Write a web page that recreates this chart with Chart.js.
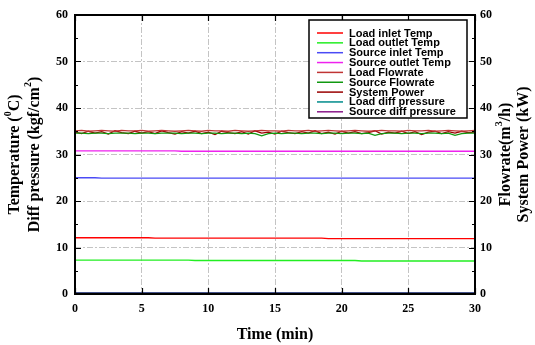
<!DOCTYPE html>
<html>
<head>
<meta charset="utf-8">
<script src="https://cdn.jsdelivr.net/npm/chart.js@4.4.0/dist/chart.umd.min.js"></script>
<style>
  html, body { margin: 0; padding: 0; background: #fff; }
</style>
</head>
<body>
<canvas id="chart" width="535" height="345"></canvas>
<script>
// time axis (min)
const timeMin = [
  0, 0.5, 1, 1.5, 2, 2.5, 3, 3.5, 4, 4.5,
  5, 5.5, 6, 6.5, 7, 7.5, 8, 8.5, 9, 9.5,
  10, 10.5, 11, 11.5, 12, 12.5, 13, 13.5, 14, 14.5,
  15, 15.5, 16, 16.5, 17, 17.5, 18, 18.5, 19, 19.5,
  20, 20.5, 21, 21.5, 22, 22.5, 23, 23.5, 24, 24.5,
  25, 25.5, 26, 26.5, 27, 27.5, 28, 28.5, 29, 29.5,
  30
];

const loadInletTemp = [
  12.1, 12.1, 12.1, 12.1, 12.1, 12.1, 12.1, 12.1, 12.1, 12.1,
  12.1, 12.1, 12.0, 12.0, 12.0, 12.0, 12.0, 12.0, 12.0, 12.0,
  12.0, 12.0, 12.0, 12.0, 12.0, 12.0, 12.0, 12.0, 12.0, 12.0,
  12.0, 12.0, 12.0, 12.0, 12.0, 12.0, 12.0, 12.0, 11.9, 11.9,
  11.9, 11.9, 11.9, 11.9, 11.9, 11.9, 11.9, 11.9, 11.9, 11.9,
  11.9, 11.9, 11.9, 11.9, 11.9, 11.9, 11.9, 11.9, 11.9, 11.9,
  11.9
];
const loadOutletTemp = [
  7.3, 7.3, 7.3, 7.3, 7.3, 7.3, 7.3, 7.3, 7.3, 7.3,
  7.3, 7.3, 7.3, 7.3, 7.3, 7.3, 7.3, 7.3, 7.2, 7.2,
  7.2, 7.2, 7.2, 7.2, 7.2, 7.2, 7.2, 7.2, 7.2, 7.2,
  7.2, 7.2, 7.2, 7.2, 7.2, 7.2, 7.2, 7.2, 7.2, 7.2,
  7.2, 7.2, 7.2, 7.1, 7.1, 7.1, 7.1, 7.1, 7.1, 7.1,
  7.1, 7.1, 7.1, 7.1, 7.1, 7.1, 7.1, 7.1, 7.1, 7.1,
  7.1
];
const sourceInletTemp = [
  25.0, 25.0, 25.0, 25.0, 24.9, 24.9, 24.9, 24.9, 24.9, 24.9,
  24.9, 24.9, 24.9, 24.9, 24.9, 24.9, 24.9, 24.9, 24.9, 24.9,
  24.9, 24.9, 24.9, 24.9, 24.9, 24.9, 24.9, 24.9, 24.9, 24.9,
  24.9, 24.9, 24.9, 24.9, 24.9, 24.9, 24.9, 24.9, 24.9, 24.9,
  24.9, 24.9, 24.9, 24.9, 24.9, 24.9, 24.9, 24.9, 24.9, 24.9,
  24.9, 24.9, 24.9, 24.9, 24.9, 24.9, 24.9, 24.9, 24.9, 24.9,
  24.9
];
const sourceOutletTemp = [
  30.8, 30.8, 30.8, 30.8, 30.8, 30.8, 30.8, 30.8, 30.8, 30.8,
  30.8, 30.8, 30.8, 30.8, 30.8, 30.8, 30.7, 30.7, 30.7, 30.7,
  30.7, 30.7, 30.7, 30.7, 30.7, 30.7, 30.7, 30.7, 30.7, 30.7,
  30.7, 30.7, 30.7, 30.7, 30.7, 30.7, 30.7, 30.7, 30.7, 30.7,
  30.7, 30.7, 30.7, 30.7, 30.7, 30.7, 30.7, 30.7, 30.7, 30.7,
  30.7, 30.7, 30.7, 30.7, 30.7, 30.7, 30.7, 30.7, 30.7, 30.7,
  30.7
];
const loadFlowrate = [
  35.1, 35.2, 35.0, 35.1, 35.2, 35.1, 35.0, 35.2, 35.1, 35.1,
  35.2, 35.0, 35.1, 35.2, 35.1, 35.0, 35.1, 35.2, 35.1, 35.0,
  35.2, 35.1, 35.1, 35.0, 35.2, 35.1, 35.0, 35.1, 35.2, 35.1,
  35.1, 35.0, 35.2, 35.1, 35.1, 35.2, 35.0, 35.1, 35.2, 35.1,
  35.0, 35.1, 35.2, 35.1, 35.0, 35.1, 35.2, 35.1, 35.1, 35.0,
  35.2, 35.1, 35.1, 35.2, 35.0, 35.1, 35.2, 35.1, 35.0, 35.1,
  35.2
];
const sourceFlowrate = [
  34.6, 34.6, 34.5, 34.6, 34.6, 34.5, 34.6, 34.6, 34.6, 34.5,
  34.6, 34.6, 34.5, 34.6, 34.6, 34.6, 34.5, 34.6, 34.6, 34.5,
  34.6, 34.6, 34.5, 34.6, 34.6, 34.5, 34.6, 34.5, 34.0, 34.5,
  34.6, 34.5, 34.6, 34.6, 34.5, 34.6, 34.6, 34.5, 34.6, 34.6,
  34.5, 34.6, 34.6, 34.5, 34.6, 34.1, 34.5, 34.6, 34.6, 34.5,
  34.6, 34.6, 34.5, 34.6, 34.6, 34.5, 34.6, 34.1, 34.5, 34.6,
  34.6
];
const systemPower = [
  34.8, 34.5, 35.0, 34.6, 34.9, 34.4, 35.1, 34.7, 34.5, 35.0,
  34.6, 34.9, 34.5, 35.1, 34.7, 34.4, 34.9, 34.6, 35.0, 34.5,
  34.8, 34.3, 35.0, 34.7, 34.5, 34.9, 34.4, 35.1, 34.6, 34.8,
  34.4, 35.0, 34.7, 34.5, 34.9, 34.6, 35.1, 34.5, 34.8, 34.4,
  35.0, 34.6, 34.9, 34.5, 34.7, 35.1, 34.4, 34.8, 34.6, 35.0,
  34.5, 34.9, 34.3, 34.8, 35.0, 34.5, 34.9, 34.6, 35.0, 34.7,
  34.8
];
const loadDiffPressure = [
  0.2, 0.2, 0.2, 0.2, 0.2, 0.2, 0.2, 0.2, 0.2, 0.2,
  0.2, 0.2, 0.2, 0.2, 0.2, 0.2, 0.2, 0.2, 0.2, 0.2,
  0.2, 0.2, 0.2, 0.2, 0.2, 0.2, 0.2, 0.2, 0.2, 0.2,
  0.2, 0.2, 0.2, 0.2, 0.2, 0.2, 0.2, 0.2, 0.2, 0.2,
  0.2, 0.2, 0.2, 0.2, 0.2, 0.2, 0.2, 0.2, 0.2, 0.2,
  0.2, 0.2, 0.2, 0.2, 0.2, 0.2, 0.2, 0.2, 0.2, 0.2,
  0.2
];
const sourceDiffPressure = [
  0.3, 0.3, 0.3, 0.3, 0.3, 0.3, 0.3, 0.3, 0.3, 0.3,
  0.3, 0.3, 0.3, 0.3, 0.3, 0.3, 0.3, 0.3, 0.3, 0.3,
  0.3, 0.3, 0.3, 0.3, 0.3, 0.3, 0.3, 0.3, 0.3, 0.3,
  0.3, 0.3, 0.3, 0.3, 0.3, 0.3, 0.3, 0.3, 0.3, 0.3,
  0.3, 0.3, 0.3, 0.3, 0.3, 0.3, 0.3, 0.3, 0.3, 0.3,
  0.3, 0.3, 0.3, 0.3, 0.3, 0.3, 0.3, 0.3, 0.3, 0.3,
  0.3
];

const seriesLabels = [
  "Load inlet Temp", "Load outlet Temp", "Source inlet Temp", "Source outlet Temp",
  "Load Flowrate", "Source Flowrate", "System Power", "Load diff pressure", "Source diff pressure"
];
const seriesValues = [
  loadInletTemp, loadOutletTemp, sourceInletTemp, sourceOutletTemp,
  loadFlowrate, sourceFlowrate, systemPower, loadDiffPressure, sourceDiffPressure
];
const seriesColors = [
  "#ff0000", "#22ee22", "#4a4af5", "#ee22ee",
  "#c03434", "#119911", "#990000", "#008b8b", "#8b1a8b"
];
const seriesAxis = ["y", "y", "y", "y", "y2", "y2", "y2", "y", "y"];

const xTicks = [0, 5, 10, 15, 20, 25, 30];
const yTicks = [0, 10, 20, 30, 40, 50, 60];

const SERIF = "'Liberation Serif', 'Times New Roman', serif";

/* ==========================
   helpers
========================== */
// draws text with superscript parts, centred on (0,0) of current transform
function drawRich(ctx, parts, size) {
  const big = "bold " + size + "px " + SERIF;
  const small = "bold " + Math.round(size * 0.62) + "px " + SERIF;
  let total = 0;
  parts.forEach(p => {
    ctx.font = p.sup ? small : big;
    p.w = ctx.measureText(p.t).width;
    total += p.w;
  });
  let x = -total / 2;
  ctx.textBaseline = "middle";
  ctx.textAlign = "left";
  parts.forEach(p => {
    ctx.font = p.sup ? small : big;
    ctx.fillText(p.t, x, p.sup ? -size * 0.38 : 0);
    x += p.w;
  });
}

const framePlugin = {
  id: "frame",
  afterDatasetsDraw(chart) {
    const { ctx, chartArea: a, scales } = chart;
    ctx.save();
    ctx.strokeStyle = "#000";
    ctx.lineWidth = 1.2;
    ctx.beginPath();
    // y ticks, inward, major every 10 and minor every 5
    for (let v = 0; v <= 60; v += 5) {
      const y = Math.round(scales.y.getPixelForValue(v)) + 0.5;
      const len = v % 10 === 0 ? 6 : 3;
      ctx.moveTo(a.left, y); ctx.lineTo(a.left + len, y);
      ctx.moveTo(a.right, y); ctx.lineTo(a.right - len, y);
    }
    xTicks.forEach(v => {
      const x = Math.round(scales.x.getPixelForValue(v)) + 0.5;
      ctx.moveTo(x, a.bottom); ctx.lineTo(x, a.bottom - 6);
      ctx.moveTo(x, a.top); ctx.lineTo(x, a.top + 6);
    });
    ctx.stroke();
    ctx.lineWidth = 2;
    ctx.strokeRect(a.left, a.top, a.right - a.left, a.bottom - a.top);
    ctx.restore();
  },
  afterDraw(chart) {
    const { ctx, chartArea: a } = chart;
    ctx.save();
    ctx.fillStyle = "#000";
    const midY = (a.top + a.bottom) / 2;

    // left axis titles
    ctx.save();
    ctx.translate(15, midY);
    ctx.rotate(-Math.PI / 2);
    drawRich(ctx, [{ t: "Temperature (" }, { t: "0", sup: true }, { t: "C)" }], 16);
    ctx.restore();
    ctx.save();
    ctx.translate(35, midY);
    ctx.rotate(-Math.PI / 2);
    drawRich(ctx, [{ t: "Diff pressure (kgf/cm" }, { t: "2", sup: true }, { t: ")" }], 16);
    ctx.restore();

    // right axis titles
    ctx.save();
    ctx.translate(506, midY);
    ctx.rotate(-Math.PI / 2);
    drawRich(ctx, [{ t: "Flowrate(m" }, { t: "3", sup: true }, { t: "/h)" }], 16);
    ctx.restore();
    ctx.save();
    ctx.translate(524, midY);
    ctx.rotate(-Math.PI / 2);
    drawRich(ctx, [{ t: "System Power (kW)" }], 16);
    ctx.restore();

    // x title
    ctx.save();
    ctx.translate((a.left + a.right) / 2, 335);
    drawRich(ctx, [{ t: "Time (min)" }], 16);
    ctx.restore();

    // legend box
    const bx = 309, by = 20, bw = 158, bh = 98;
    ctx.fillStyle = "#fff";
    ctx.fillRect(bx, by, bw, bh);
    ctx.strokeStyle = "#000";
    ctx.lineWidth = 1.5;
    ctx.strokeRect(bx, by, bw, bh);
    ctx.font = "bold 11px 'Liberation Sans', Arial, sans-serif";
    ctx.textBaseline = "middle";
    ctx.textAlign = "left";
    chart.data.datasets.forEach((ds, i) => {
      const y = 33 + i * 9.85;
      ctx.strokeStyle = ds.borderColor;
      ctx.lineWidth = 1.5;
      ctx.beginPath();
      ctx.moveTo(317, y); ctx.lineTo(343, y);
      ctx.stroke();
      ctx.fillStyle = "#000";
      ctx.fillText(ds.label, 349, y + 0.5);
    });
    ctx.restore();
  }
};

const tickFont = { family: SERIF, size: 12, weight: "bold" };
const gridOpts = { color: "#c4c4c4", lineWidth: 1, drawTicks: false };

new Chart(document.getElementById("chart"), {
  type: "line",
  data: {
    labels: timeMin,
    datasets: seriesLabels.map((label, i) => ({
      label: label,
      data: timeMin.map((t, j) => ({ x: t, y: seriesValues[i][j] })),
      borderColor: seriesColors[i],
      backgroundColor: seriesColors[i],
      borderWidth: 1.3,
      pointRadius: 0,
      tension: 0,
      yAxisID: seriesAxis[i],
    })),
  },
  options: {
    responsive: false,
    animation: false,
    layout: { padding: { top: 15, left: 0, right: 0, bottom: 0 } },
    plugins: {
      legend: { display: false },
      tooltip: { enabled: false },
    },
    scales: {
      x: {
        type: "linear",
        min: 0,
        max: 30,
        afterBuildTicks: s => { s.ticks = xTicks.map(v => ({ value: v })); },
        afterFit: s => { s.height = 51; },
        ticks: { color: "#000", font: tickFont, padding: 8 },
        grid: gridOpts,
        border: { display: false, dash: [6, 2, 2, 2] },
      },
      y: {
        position: "left",
        min: 0,
        max: 60,
        afterBuildTicks: s => { s.ticks = yTicks.map(v => ({ value: v })); },
        afterFit: s => { s.width = 75; },
        ticks: { color: "#000", font: tickFont, padding: 7 },
        grid: gridOpts,
        border: { display: false, dash: [6, 2, 2, 2] },
      },
      y2: {
        position: "right",
        min: 0,
        max: 60,
        afterBuildTicks: s => { s.ticks = yTicks.map(v => ({ value: v })); },
        afterFit: s => { s.width = 60; },
        ticks: { color: "#000", font: tickFont, padding: 5 },
        grid: { display: false, drawTicks: false },
        border: { display: false },
      },
    },
  },
  plugins: [framePlugin],
});
</script>
</body>
</html>
